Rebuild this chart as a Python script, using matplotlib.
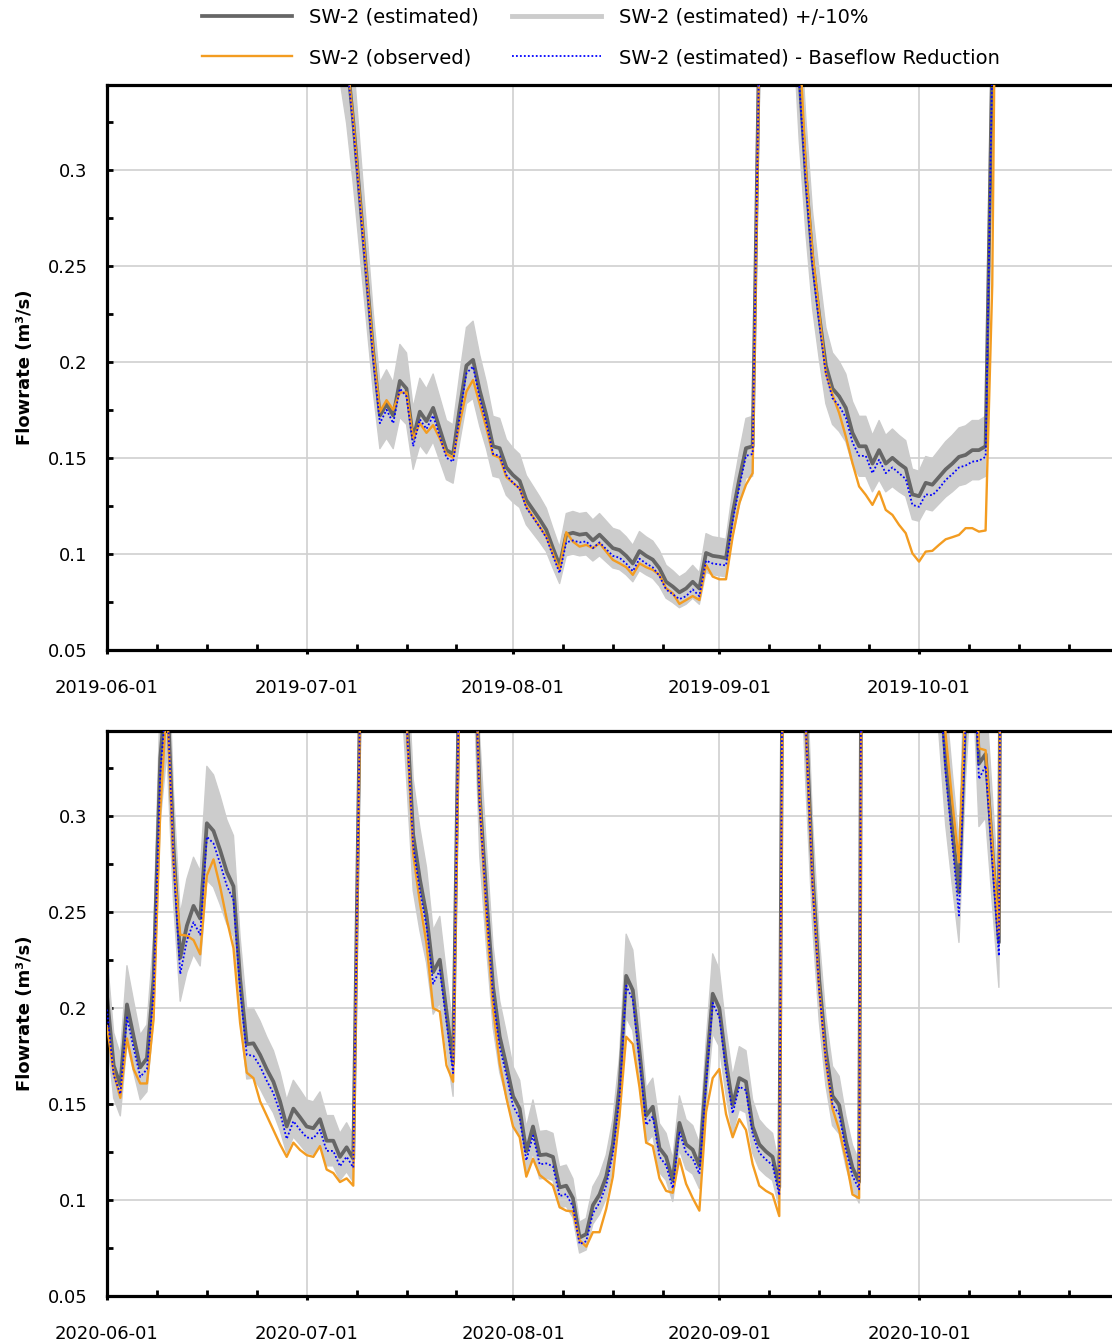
import numpy as np
import pandas as pd
import matplotlib
matplotlib.use("Agg")
import matplotlib.pyplot as plt
import matplotlib.dates as mdates
from matplotlib.ticker import MultipleLocator, FixedLocator, FuncFormatter
from matplotlib.lines import Line2D

plt.rcParams['font.family'] = ['DejaVu Sans']

# ---------------- data ----------------
# 2019 panel: daily values starting 2019-07-04
top_start = "2019-07-04"
top_est = [0.45, 0.42, 0.385, 0.36, 0.325, 0.285, 0.245, 0.205,
           0.172, 0.178, 0.172, 0.190, 0.186, 0.160, 0.174, 0.169, 0.176, 0.165,
           0.154, 0.152, 0.176, 0.198, 0.201, 0.185, 0.172, 0.156, 0.155, 0.145,
           0.141, 0.138, 0.128, 0.123, 0.118, 0.1125, 0.103, 0.094, 0.110, 0.111,
           0.110, 0.1105, 0.107, 0.110, 0.1065, 0.103, 0.102, 0.099, 0.095, 0.1015,
           0.099, 0.097, 0.0925, 0.0855, 0.083, 0.080, 0.082, 0.0855, 0.082, 0.1005,
           0.099, 0.0985, 0.0978, 0.121, 0.139, 0.155, 0.156, 0.37, 1.2, 0.8,
           0.6, 0.5, 0.42, 0.35, 0.2965, 0.253, 0.224, 0.198, 0.186, 0.182,
           0.176, 0.163, 0.156, 0.156, 0.147, 0.154, 0.147, 0.150, 0.147, 0.1445,
           0.131, 0.130, 0.137, 0.136, 0.140, 0.144, 0.147, 0.1505, 0.1515, 0.154,
           0.154, 0.156, 0.36, 1.5, 1.2, 1.0]
top_obs = [0.45, 0.42, 0.385, 0.36, 0.325, 0.285, 0.245, 0.205,
           0.174, 0.180, 0.175, 0.184, 0.184, 0.160, 0.168, 0.163, 0.167, 0.160,
           0.152, 0.150, 0.168, 0.1845, 0.1905, 0.178, 0.1655, 0.1515, 0.150, 0.140,
           0.137, 0.134, 0.1247, 0.1194, 0.1142, 0.109, 0.100, 0.0917, 0.1113, 0.1064,
           0.1038, 0.1047, 0.103, 0.1056, 0.1012, 0.0969, 0.0951, 0.0931, 0.0891, 0.0951,
           0.0931, 0.0917, 0.0891, 0.0821, 0.0795, 0.074, 0.076, 0.0781, 0.076, 0.0943,
           0.0882, 0.0868, 0.0868, 0.109, 0.1264, 0.136, 0.142, 0.36, 1.1, 0.8,
           0.6, 0.5, 0.44, 0.37, 0.30, 0.2566, 0.2253, 0.194, 0.1828, 0.1733,
           0.1611, 0.1472, 0.1351, 0.1307, 0.1255, 0.1325, 0.1229, 0.1203, 0.1151, 0.1108,
           0.1003, 0.096, 0.1012, 0.1016, 0.1047, 0.1076, 0.1087, 0.1099, 0.1134, 0.1134,
           0.1116, 0.1122, 0.24, 0.6, 1.2, 1.0]
top_base = [0.447, 0.417, 0.382, 0.357, 0.322, 0.282, 0.242, 0.201,
            0.168, 0.175, 0.168, 0.186, 0.182, 0.156, 0.170, 0.165, 0.172, 0.161,
            0.150, 0.148, 0.172, 0.194, 0.1975, 0.181, 0.168, 0.152, 0.151, 0.141,
            0.137, 0.134, 0.124, 0.119, 0.114, 0.1085, 0.099, 0.090, 0.106, 0.107,
            0.106, 0.1065, 0.103, 0.106, 0.1025, 0.099, 0.098, 0.095, 0.091, 0.0975,
            0.095, 0.093, 0.0885, 0.0815, 0.079, 0.0765, 0.078, 0.0815, 0.078, 0.0965,
            0.095, 0.0945, 0.094, 0.117, 0.135, 0.151, 0.152, 0.365, 1.2, 0.79,
            0.59, 0.49, 0.41, 0.345, 0.292, 0.249, 0.220, 0.194, 0.181, 0.177,
            0.171, 0.158, 0.151, 0.151, 0.142, 0.149, 0.142, 0.145, 0.142, 0.139,
            0.1255, 0.1245, 0.131, 0.1305, 0.134, 0.1385, 0.1415, 0.145, 0.146, 0.148,
            0.1485, 0.1505, 0.355, 1.5, 1.2, 1.0]

# 2020 panel: daily values starting 2020-06-01
bot_start = "2020-06-01"
bot_est = [0.2063, 0.170, 0.1597, 0.2017, 0.185, 0.169, 0.1737, 0.215, 0.33, 0.37,
           0.283, 0.226, 0.2427, 0.253, 0.2464, 0.296, 0.292, 0.282, 0.2707, 0.2632,
           0.215, 0.181, 0.1815, 0.1755, 0.168, 0.1615, 0.1513, 0.1382, 0.1475, 0.143,
           0.1382, 0.1373, 0.142, 0.1308, 0.1308, 0.1224, 0.1274, 0.1214, 0.36, 1.2,
           1.0, 0.8, 0.65, 0.5, 0.42, 0.355, 0.29, 0.267, 0.2483, 0.2185,
           0.225, 0.198, 0.171, 0.40, 0.9, 0.42, 0.31, 0.2576, 0.211, 0.185,
           0.170, 0.154, 0.1475, 0.1252, 0.1382, 0.1233, 0.1237, 0.1224, 0.1065, 0.1074,
           0.1009, 0.0804, 0.0822, 0.0972, 0.1028, 0.1121, 0.1289, 0.1587, 0.2166, 0.2091,
           0.1774, 0.1438, 0.1485, 0.127, 0.1224, 0.1102, 0.1401, 0.1289, 0.1261, 0.1177,
           0.165, 0.2073, 0.1998, 0.1718, 0.1494, 0.1634, 0.1615, 0.1382, 0.1289, 0.1252,
           0.1224, 0.1065, 0.7, 0.7, 0.45, 0.35, 0.27, 0.2147, 0.1774, 0.1541,
           0.1494, 0.1308, 0.1168, 0.1093, 1.0, 1.2, 1.1, 0.9, 0.8, 0.7,
           0.6, 0.55, 0.5, 0.45, 0.42, 0.38, 0.328, 0.293, 0.26, 0.355,
           0.42, 0.327, 0.332, 0.283, 0.234, 1.0, 1.0]
bot_obs = [0.1905, 0.1662, 0.1531, 0.184, 0.168, 0.1606, 0.1606, 0.1942, 0.302, 0.36,
           0.275, 0.238, 0.2375, 0.2352, 0.2278, 0.2688, 0.2772, 0.263, 0.2458, 0.231,
           0.192, 0.1662, 0.1634, 0.1513, 0.1438, 0.1363, 0.1289, 0.1224, 0.1298, 0.126,
           0.1233, 0.1224, 0.128, 0.1158, 0.114, 0.1093, 0.1112, 0.1074, 0.35, 1.1,
           1.0, 0.8, 0.65, 0.5, 0.42, 0.35, 0.28, 0.255, 0.2334, 0.1998,
           0.198, 0.170, 0.1615, 0.38, 0.85, 0.42, 0.308, 0.2464, 0.1998, 0.1709,
           0.1531, 0.1382, 0.1326, 0.1121, 0.1214, 0.113, 0.1102, 0.1074, 0.0962, 0.0944,
           0.094, 0.079, 0.0757, 0.0832, 0.0832, 0.0953, 0.1121, 0.1438, 0.1849, 0.1811,
           0.1587, 0.1298, 0.128, 0.1112, 0.1047, 0.1037, 0.1214, 0.1084, 0.1009, 0.0944,
           0.1457, 0.1634, 0.1681, 0.1447, 0.1326, 0.142, 0.1364, 0.1186, 0.1074, 0.1047,
           0.1028, 0.0916, 0.65, 0.7, 0.45, 0.345, 0.265, 0.21, 0.172, 0.1475,
           0.1364, 0.1214, 0.1028, 0.1009, 0.9, 1.2, 1.1, 0.9, 0.8, 0.7,
           0.6, 0.55, 0.5, 0.45, 0.42, 0.39, 0.342, 0.307, 0.2757, 0.36,
           0.42, 0.335, 0.334, 0.285, 0.238, 1.0, 1.0]
bot_base = [0.199, 0.165, 0.155, 0.195, 0.179, 0.164, 0.168, 0.208, 0.322, 0.365,
            0.276, 0.2175, 0.235, 0.2445, 0.238, 0.289, 0.2855, 0.275, 0.2635, 0.256,
            0.209, 0.1755, 0.175, 0.1695, 0.162, 0.1555, 0.1455, 0.1317, 0.141, 0.1365,
            0.1325, 0.132, 0.1365, 0.1255, 0.1255, 0.1175, 0.1225, 0.1168, 0.355, 1.195,
            0.995, 0.795, 0.645, 0.495, 0.415, 0.35, 0.284, 0.261, 0.2425, 0.2125,
            0.2195, 0.1925, 0.166, 0.395, 0.895, 0.415, 0.305, 0.252, 0.2055, 0.1795,
            0.165, 0.149, 0.1425, 0.1205, 0.1335, 0.1185, 0.119, 0.1175, 0.102, 0.103,
            0.0965, 0.077, 0.0785, 0.093, 0.0985, 0.1075, 0.124, 0.1535, 0.2115, 0.204,
            0.1725, 0.139, 0.1435, 0.1225, 0.118, 0.106, 0.1355, 0.1245, 0.1215, 0.1135,
            0.160, 0.2025, 0.195, 0.167, 0.145, 0.159, 0.157, 0.134, 0.1245, 0.121,
            0.118, 0.1025, 0.695, 0.695, 0.445, 0.345, 0.264, 0.2095, 0.1725, 0.1495,
            0.1445, 0.126, 0.1125, 0.1055, 0.995, 1.195, 1.095, 0.895, 0.795, 0.695,
            0.595, 0.545, 0.495, 0.445, 0.415, 0.375, 0.322, 0.286, 0.248, 0.35,
            0.41, 0.319, 0.326, 0.276, 0.227, 1.0, 1.0]

band_frac = 0.10  # "+/-10%" band around the estimate
years = [2019, 2020]
labels = ["SW-2 (estimated)", "SW-2 (observed)",
          "SW-2 (estimated) +/-10%", "SW-2 (estimated) - Baseflow Reduction"]
yticks = [0.05, 0.1, 0.15, 0.2, 0.25, 0.3]

# ---------------- styling ----------------
C_EST = "#666666"
C_BAND = "#cccccc"
C_OBS = "#f39c21"
C_BASE = "#0000ff"
C_GRID = "#d0d0d0"

W, H = 1112, 1344
fig = plt.figure(figsize=(W / 100, H / 100), dpi=100)

px_day = 6.656
left_px = 107
ax_h_px = 565


def make_axes(top_px, year, start, est, obs, base):
    x0 = pd.Timestamp(f"{year}-06-01")
    x1 = pd.Timestamp(f"{year}-10-31")
    ndays = (x1 - x0).days
    ax = fig.add_axes([left_px / W, 1 - (top_px + ax_h_px) / H,
                       ndays * px_day / W, ax_h_px / H])
    dates = pd.date_range(start, periods=len(est), freq="D")
    est = np.asarray(est)
    ax.fill_between(dates, est * (1 - band_frac), est * (1 + band_frac),
                    color=C_BAND, lw=1.0, zorder=1)
    ax.plot(dates, est, color=C_EST, lw=2.7, zorder=2)
    ax.plot(dates, obs, color=C_OBS, lw=1.7, zorder=3)
    ax.plot(dates, base, color=C_BASE, lw=1.3, ls=(0, (1, 1.2)), zorder=4)

    ax.set_xlim(x0, x1)
    ax.set_ylim(0.05, 0.344)

    majors = [pd.Timestamp(f"{year}-{m:02d}-01") for m in range(6, 11)]
    minors = []
    for m in majors:
        for k in (1, 2, 3):
            minors.append(m + pd.Timedelta(hours=int(7.5 * 24 * k)))
    ax.xaxis.set_major_locator(FixedLocator(mdates.date2num(majors)))
    ax.xaxis.set_minor_locator(FixedLocator(mdates.date2num(minors)))
    ax.xaxis.set_major_formatter(mdates.DateFormatter("%Y-%m-%d"))

    ax.yaxis.set_major_locator(FixedLocator(yticks))
    ax.yaxis.set_minor_locator(MultipleLocator(0.025))
    ax.yaxis.set_major_formatter(FuncFormatter(lambda v, p: f"{v:g}"))

    ax.grid(True, which="major", color=C_GRID, lw=1.2, zorder=0)
    ax.set_axisbelow(True)

    ax.tick_params(axis="x", which="major", direction="out", length=3, width=2.2,
                   pad=18, labelsize=13, color="black")
    ax.tick_params(axis="x", which="minor", direction="in", length=4, width=2.0)
    ax.tick_params(axis="y", which="both", direction="in", length=4, width=2.0,
                   pad=14, labelsize=13)

    for s in ("left", "bottom", "top"):
        ax.spines[s].set_linewidth(2.3)
        ax.spines[s].set_color("black")
    ax.spines["right"].set_visible(False)

    fig.text(25 / W, 1 - (top_px + ax_h_px / 2) / H, "Flowrate (m³/s)",
             rotation=90, ha="center", va="center", fontsize=13,
             fontweight="bold")
    return ax


ax1 = make_axes(85, years[0], top_start, top_est, top_obs, top_base)
ax2 = make_axes(731, years[1], bot_start, bot_est, bot_obs, bot_base)

handles = [Line2D([], [], color=C_EST, lw=2.7),
           Line2D([], [], color=C_OBS, lw=1.7),
           Line2D([], [], color=C_BAND, lw=3.5),
           Line2D([], [], color=C_BASE, lw=1.3, ls=(0, (1, 1.2)))]
fig.legend(handles, labels, ncol=2, loc="upper center",
           bbox_to_anchor=(601 / W, 1.0), frameon=False, fontsize=14,
           handlelength=4.6, handletextpad=0.9, columnspacing=1.7,
           labelspacing=1.1, borderaxespad=0.0)

fig.savefig("out.png", dpi=100)
